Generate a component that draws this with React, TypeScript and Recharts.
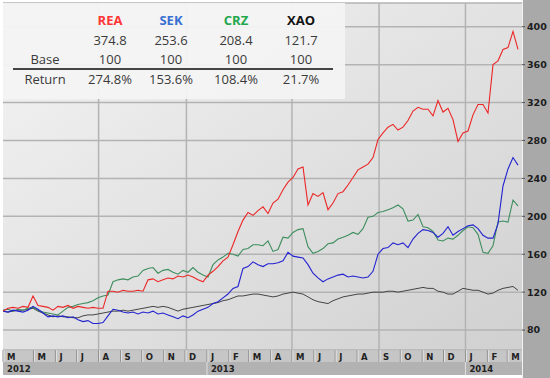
import { CartesianGrid, Line, LineChart, ReferenceLine, XAxis, YAxis } from "recharts";

// weekly closes rebased to 100, first sample ~19 Mar 2012
const REA = [
  100, 103, 104, 103, 105, 104, 116, 106, 105, 104, 101, 105, 104,
  106, 103, 105, 104, 103, 104, 103, 103, 121, 121, 120, 122, 121,
  121, 122, 121, 133, 134, 131, 133, 135, 134, 137, 136, 138, 136,
  133, 131, 138, 142, 147, 153, 157, 170, 184, 196, 204, 201, 206,
  210, 203, 214, 218, 228, 236, 241, 250, 252, 212, 224, 221, 225,
  207, 214, 224, 226, 233, 241, 249, 252, 255, 262, 281, 288, 294,
  297, 291, 294, 301, 311, 315, 313, 313, 306, 322, 310, 314, 302,
  279, 288, 290, 307, 318, 318, 309, 360, 364, 376, 378, 395, 376,
];
const SEK = [
  100, 99, 101, 100, 99, 101, 105, 102, 98, 94, 95, 94, 95,
  93, 94, 91, 89, 90, 87, 87, 88, 95, 102, 101, 99, 98,
  99, 97, 99, 98, 100, 97, 98, 96, 94, 92, 95, 93, 96,
  100, 102, 104, 108, 110, 114, 118, 124, 126, 145, 147, 152, 149,
  147, 150, 150, 151, 153, 162, 158, 157, 156, 149, 140, 135, 131,
  134, 136, 138, 139, 136, 137, 136, 135, 136, 142, 160, 166, 167,
  172, 170, 172, 167, 176, 182, 186, 185, 183, 178, 182, 189, 180,
  184, 187, 190, 191, 187, 180, 177, 177, 192, 232, 250, 262, 254,
];
const CRZ = [
  101, 102, 100, 102, 101, 103, 104, 101, 99, 98, 97, 96, 100,
  104, 105, 107, 108, 109, 111, 114, 116, 117, 131, 133, 134, 133,
  136, 137, 143, 145, 146, 140, 143, 144, 141, 139, 143, 141, 146,
  141, 138, 136, 149, 154, 157, 161, 160, 158, 165, 166, 170, 170,
  169, 174, 163, 165, 178, 177, 183, 186, 187, 168, 161, 163, 166,
  171, 172, 176, 178, 180, 183, 181, 187, 199, 200, 204, 205, 207,
  209, 212, 208, 195, 196, 202, 189, 188, 184, 175, 174, 177, 176,
  180, 185, 189, 188, 181, 162, 161, 169, 194, 195, 194, 217, 211,
];
const XAO = [
  100, 99, 100, 101, 101, 102, 103, 100, 98, 96, 94, 95, 94,
  94, 93, 93, 95, 96, 96, 97, 98, 99, 100, 100, 101, 100,
  101, 102, 103, 104, 105, 104, 105, 104, 102, 100, 102, 103, 104,
  105, 106, 107, 108, 109, 111, 112, 114, 116, 116, 117, 118, 118,
  117, 116, 115, 116, 118, 119, 120, 119, 118, 115, 112, 110, 109,
  108, 111, 113, 115, 116, 117, 118, 118, 119, 120, 120, 120, 121,
  121, 120, 121, 122, 123, 124, 125, 124, 124, 121, 120, 118, 118,
  121, 124, 123, 122, 122, 120, 118, 119, 122, 124, 125, 126, 122,
];

const SERIES = [
  { key: "rea", name: "REA", color: "#ec2626", width: 1.1, head: "#ff3434", last: "374.8", ret: "274.8%" },
  { key: "sek", name: "SEK", color: "#2222d0", width: 1.1, head: "#3a6fd2", last: "253.6", ret: "153.6%" },
  { key: "crz", name: "CRZ", color: "#3e8e5e", width: 1.1, head: "#23a74c", last: "208.4", ret: "108.4%" },
  { key: "xao", name: "XAO", color: "#333333", width: 0.9, head: "#111111", last: "121.7", ret: "21.7%" },
];

const Y_TICKS = [80, 120, 160, 200, 240, 280, 320, 360, 400];

const MONTH_LABELS = ["M", "M", "J", "J", "A", "S", "O", "N", "D", "J", "F", "M", "A", "M", "J", "J", "A", "S", "O", "N", "D", "J", "F", "M"];
// [year, month(0-based), day] of each month box start
const MONTH_STARTS = [
  [2012, 2, 19], [2012, 4, 1], [2012, 5, 1], [2012, 6, 1], [2012, 7, 1], [2012, 8, 1], [2012, 9, 1], [2012, 10, 1], [2012, 11, 1],
  [2013, 0, 1], [2013, 1, 1], [2013, 2, 1], [2013, 3, 1], [2013, 4, 1], [2013, 5, 1], [2013, 6, 1], [2013, 7, 1], [2013, 8, 1],
  [2013, 9, 1], [2013, 10, 1], [2013, 11, 1], [2014, 0, 1], [2014, 1, 1], [2014, 2, 1],
];
const YEAR_LABELS = ["2012", "2013", "2014"];
const YEAR_STARTS = [[2012, 2, 19], [2013, 0, 1], [2014, 0, 1]];
const GRID_DATES = [[2012, 7, 1], [2012, 11, 3], [2013, 4, 1], [2013, 8, 1], [2014, 0, 1]];

const START = Date.UTC(2012, 2, 19);
const STEP_DAYS = 7.06;
const toStep = ([y, m, d]: number[]) => (Date.UTC(y, m, d) - START) / 86400000 / STEP_DAYS;

const monthTicks = MONTH_STARTS.map(toStep);
const yearTicks = YEAR_STARTS.map(toStep);
const gridTicks = GRID_DATES.map(toStep);

const data = REA.map((v, i) => ({ t: i, rea: v, sek: SEK[i], crz: CRZ[i], xao: XAO[i] }));

const AX_FONT = "'DejaVu Sans', Verdana, sans-serif";

function MonthTick(props: any) {
  const { x, y, index } = props;
  return (
    <g>
      <line x1={x} x2={x} y1={y} y2={y + 12} stroke="#8e8e8e" />
      <line x1={x + 1} x2={x + 1} y1={y} y2={y + 12} stroke="#e2e2e2" />
      <text x={x + 4} y={y + 9.5} fontSize={8.5} fontWeight="bold" fill="#222" fontFamily={AX_FONT}>
        {MONTH_LABELS[index]}
      </text>
    </g>
  );
}

function YearTick(props: any) {
  const { x, y, index } = props;
  return (
    <g>
      {index > 0 && <line x1={x} x2={x} y1={y} y2={y + 13} stroke="#e0e0e0" />}
      <text x={x + 4} y={y + 10} fontSize={8.5} fontWeight="bold" fill="#222" fontFamily={AX_FONT}>
        {YEAR_LABELS[index]}
      </text>
    </g>
  );
}

const COL_X = [42, 107, 168, 233, 298];
const ROW_Y = [17, 37, 56, 76];

function Cell({ x, y, children, color = "#3a3a3a", bold = false }: any) {
  return (
    <div
      style={{
        position: "absolute",
        left: x - 40,
        top: y - 9,
        width: 80,
        textAlign: "center",
        lineHeight: "18px",
        fontSize: 13,
        fontWeight: bold ? 700 : 400,
        color,
      }}
    >
      {children}
    </div>
  );
}

export default function App() {
  return (
    <div style={{ position: "relative", width: 550, height: 378, background: "#fff", overflow: "hidden" }}>
      <style>{"body{margin:0}"}</style>
      <div style={{ position: "absolute", left: 522, top: 0, width: 28, height: 378, background: "#a9a9a9", borderLeft: "1px solid #f2f2f2", boxSizing: "border-box" }} />
      <div style={{ position: "absolute", left: 3, top: 350, width: 519, height: 12, background: "#c6c6c6", borderTop: "1px solid #ececec", boxSizing: "border-box" }} />
      <div style={{ position: "absolute", left: 3, top: 362, width: 519, height: 13, background: "#b2b2b2" }} />
      <div style={{ position: "absolute", left: 0, top: 0 }}>
        <LineChart width={550} height={378} data={data} margin={{ top: 3, right: 0, bottom: 3, left: 3 }}>
          <defs>
            <linearGradient id="plotBg" x1="0" y1="0" x2="1" y2="1">
              <stop offset="0%" stopColor="#f4f4f4" />
              <stop offset="100%" stopColor="#d0d0d0" />
            </linearGradient>
          </defs>
          <CartesianGrid fill="url(#plotBg)" stroke="#b3b3b3" strokeWidth={1.5} vertical={false} />
          {gridTicks.map((v) => (
            <ReferenceLine key={v} x={v} stroke="#b3b3b3" strokeWidth={1.5} />
          ))}
          <XAxis
            dataKey="t"
            type="number"
            domain={[0, 103.8]}
            allowDataOverflow
            ticks={monthTicks}
            interval={0}
            height={12}
            axisLine={false}
            tickLine={false}
            tickSize={0}
            tickMargin={0}
            tick={<MonthTick />}
          />
          <XAxis
            xAxisId="yr"
            dataKey="t"
            type="number"
            domain={[0, 103.8]}
            allowDataOverflow
            ticks={yearTicks}
            interval={0}
            height={13}
            axisLine={false}
            tickLine={false}
            tickSize={0}
            tickMargin={0}
            tick={<YearTick />}
          />
          <YAxis
            orientation="right"
            width={28}
            domain={[59, 425]}
            allowDataOverflow
            ticks={Y_TICKS}
            interval={0}
            axisLine={false}
            tickLine={{ stroke: "#555" }}
            tickSize={3}
            tickMargin={2}
            tick={{ fill: "#1c1c1c", fontSize: 9.5, fontWeight: "bold", fontFamily: AX_FONT }}
          />
          {[...SERIES].reverse().map((s) => (
            <Line
              key={s.key}
              type="linear"
              dataKey={s.key}
              stroke={s.color}
              strokeWidth={s.width}
              dot={false}
              isAnimationActive={false}
            />
          ))}
        </LineChart>
      </div>
      <div
        style={{
          position: "absolute",
          left: 3,
          top: 3,
          width: 342,
          height: 96,
          background: "rgba(244,244,244,0.96)",
          fontFamily: "'Open Sans', 'Noto Sans', sans-serif",
        }}
      >
        {SERIES.map((s, i) => (
          <Cell key={s.key + "h"} x={COL_X[i + 1]} y={ROW_Y[0]} color={s.head} bold>
            {s.name}
          </Cell>
        ))}
        {SERIES.map((s, i) => (
          <Cell key={s.key + "l"} x={COL_X[i + 1]} y={ROW_Y[1]}>
            {s.last}
          </Cell>
        ))}
        <Cell x={COL_X[0]} y={ROW_Y[2]}>Base</Cell>
        {SERIES.map((s, i) => (
          <Cell key={s.key + "b"} x={COL_X[i + 1]} y={ROW_Y[2]}>
            100
          </Cell>
        ))}
        <div style={{ position: "absolute", left: 10, top: 65, width: 320, height: 1.5, background: "#444" }} />
        <Cell x={COL_X[0]} y={ROW_Y[3]}>Return</Cell>
        {SERIES.map((s, i) => (
          <Cell key={s.key + "r"} x={COL_X[i + 1]} y={ROW_Y[3]}>
            {s.ret}
          </Cell>
        ))}
      </div>
    </div>
  );
}
